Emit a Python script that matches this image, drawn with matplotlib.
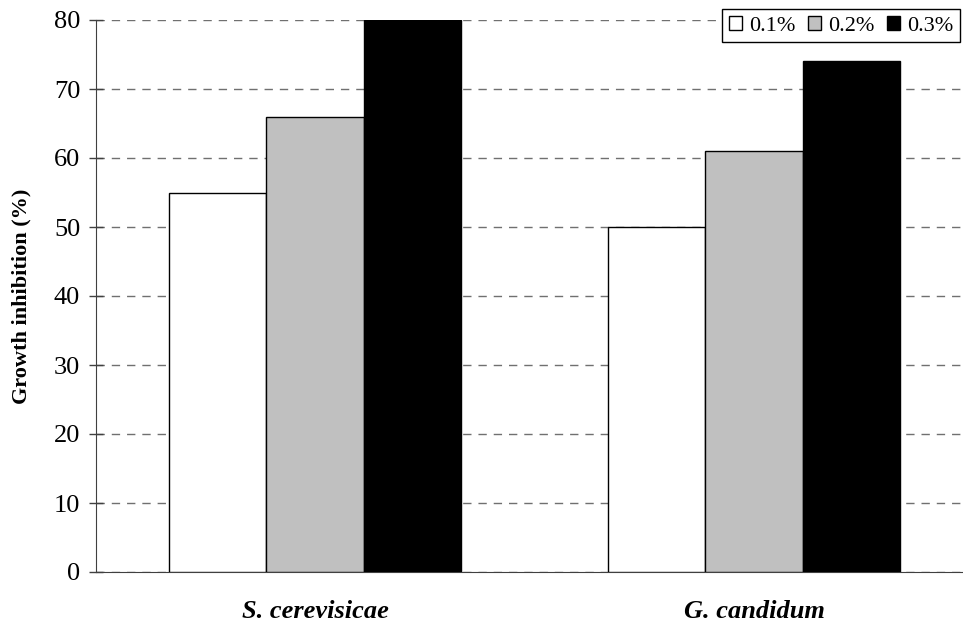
import numpy as np
import matplotlib
matplotlib.use('Agg')
import matplotlib.pyplot as plt

plt.rcParams['font.family'] = ['Liberation Serif', 'DejaVu Serif']

# data
organisms = ["S. cerevisicae", "G. candidum"]
concentrations = ["0.1%", "0.2%", "0.3%"]
inhibition_01 = [55, 50]
inhibition_02 = [66, 61]
inhibition_03 = [80, 74]
bar_colors = ["white", "#c0c0c0", "black"]
yticks = [0, 10, 20, 30, 40, 50, 60, 70, 80]

fig = plt.figure(figsize=(9.63, 6.25), dpi=100)
ax = fig.add_axes([95.5 / 963, 53 / 625, 878 / 963, 552 / 625])

x = np.arange(len(organisms))
w = 0.221
series = [inhibition_01, inhibition_02, inhibition_03]
for i, (vals, col, lab) in enumerate(zip(series, bar_colors, concentrations)):
    ax.bar(x + (i - 1) * w, vals, width=w, color=col, edgecolor='black',
           linewidth=1.0, label=lab, zorder=3)

ax.set_xlim(-0.5, 1.5)
ax.set_ylim(0, 80)
ax.set_yticks(yticks)
ax.yaxis.grid(True, linestyle=(0, (6, 5)), color='#707070', linewidth=1.0, zorder=0)
ax.set_axisbelow(True)

for s in ['top', 'right']:
    ax.spines[s].set_visible(False)
ax.spines['left'].set_color('#404040')
ax.spines['bottom'].set_color('#404040')

ax.tick_params(axis='y', direction='inout', length=10, width=1, color='#404040',
               labelsize=19, pad=6)
ax.set_xticks(x)
ax.set_xticklabels(organisms, fontsize=19, fontweight='bold', fontstyle='italic')
ax.tick_params(axis='x', length=0, pad=20)
ax.set_ylabel("Growth inhibition (%)", fontsize=16, fontweight='bold', labelpad=16)

leg = fig.legend(loc='upper right', bbox_to_anchor=(960 / 963, 1 - 9 / 625), ncol=3,
                 fontsize=16, frameon=True, fancybox=False, handlelength=0.62,
                 handleheight=0.62, handletextpad=0.3, columnspacing=0.55,
                 borderpad=0.3, borderaxespad=0)
leg.get_frame().set_edgecolor('black')
leg.get_frame().set_linewidth(1.0)
leg.get_frame().set_alpha(1)

fig.savefig('out.png', dpi=100)
